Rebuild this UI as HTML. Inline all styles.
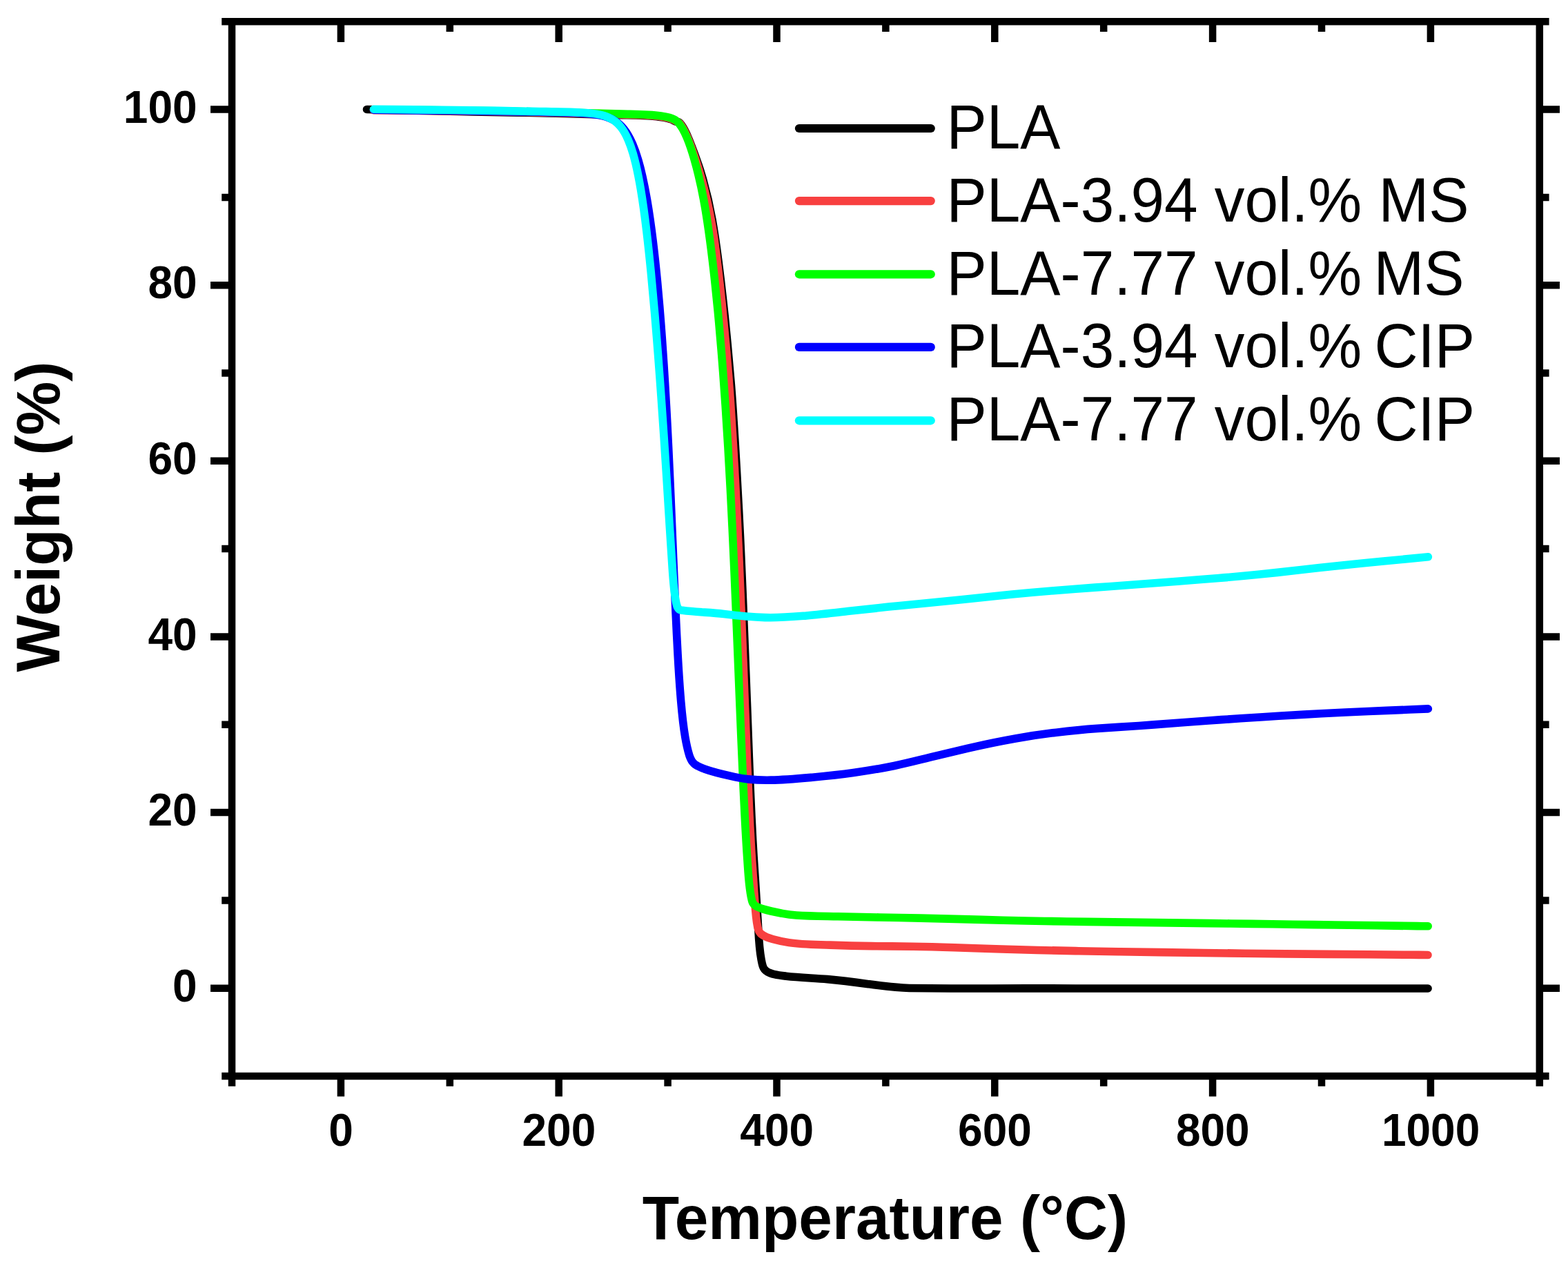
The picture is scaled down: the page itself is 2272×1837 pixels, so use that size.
<!DOCTYPE html>
<html lang="en"><head><meta charset="utf-8"><title>TGA curves</title>
<style>
html,body{margin:0;padding:0;background:#fff;}
body{width:2272px;height:1837px;overflow:hidden;}
svg{display:block;}
</style></head><body>
<svg width="2272" height="1837" viewBox="0 0 2272 1837">
<rect width="2272" height="1837" fill="#fff"/>
<g fill="none" stroke-linecap="round" stroke-linejoin="round" stroke-width="11.6">
<path stroke="#000" d="M531.50,158.50 C551.50,158.94 571.49,159.39 591.48,159.84 C611.48,160.29 631.47,160.74 651.47,161.18 C671.47,161.61 691.46,162.03 711.46,162.37 C731.46,162.72 751.45,163.01 771.45,163.42 C791.44,163.83 811.44,164.34 831.43,164.86 C851.42,165.38 871.42,165.93 891.41,166.45 C911.40,166.97 931.49,166.31 951.34,168.75 C956.97,169.45 962.60,170.20 968.09,171.57 C969.87,172.01 971.63,172.52 973.34,173.18 C975.83,174.14 977.64,175.68 980.24,176.24 C981.55,176.53 982.13,176.32 983.36,176.83 C984.29,177.22 984.73,177.64 985.41,178.38 C986.09,179.11 986.64,179.86 987.22,180.67 C988.88,182.97 990.34,185.40 991.70,187.88 C994.42,192.85 996.71,198.05 998.81,203.31 C1006.23,221.88 1013.14,240.67 1018.60,259.91 C1024.06,279.15 1028.58,298.66 1032.05,318.35 C1035.53,338.05 1038.32,357.86 1040.89,377.69 C1043.46,397.53 1045.80,417.39 1047.97,437.27 C1050.15,457.15 1052.15,477.05 1054.03,496.96 C1055.90,516.88 1057.66,536.80 1059.31,556.73 C1060.97,576.66 1062.22,596.62 1063.51,616.58 C1064.81,636.54 1066.02,656.50 1067.17,676.47 C1068.32,696.44 1069.40,716.41 1070.44,736.38 C1071.47,756.35 1072.48,776.33 1073.39,796.31 C1074.31,816.29 1075.15,836.27 1075.99,856.25 C1076.82,876.24 1077.63,896.22 1078.43,916.20 C1079.22,936.19 1080.01,956.17 1080.79,976.16 C1081.58,996.14 1082.39,1016.12 1083.10,1036.11 C1083.81,1056.10 1084.55,1076.09 1085.32,1096.07 C1086.09,1116.06 1086.89,1136.04 1087.76,1156.02 C1088.63,1176.00 1089.56,1195.98 1090.63,1215.95 C1091.70,1235.92 1093.05,1255.88 1094.39,1275.83 C1095.73,1295.79 1096.94,1315.75 1098.17,1335.71 C1099.28,1353.68 1099.68,1371.78 1102.97,1389.47 C1103.58,1392.75 1104.12,1396.04 1105.15,1399.22 C1105.45,1400.17 1105.80,1401.08 1106.25,1401.98 C1106.69,1402.87 1107.20,1403.68 1107.82,1404.46 C1108.45,1405.24 1109.13,1405.91 1109.91,1406.53 C1110.70,1407.15 1111.52,1407.66 1112.40,1408.14 C1113.58,1408.76 1114.80,1409.28 1116.04,1409.75 C1118.07,1410.51 1120.14,1411.13 1122.25,1411.63 C1127.77,1412.93 1133.42,1413.54 1139.05,1414.17 C1158.92,1416.40 1178.94,1416.94 1198.87,1418.64 C1218.80,1420.33 1238.63,1422.91 1258.44,1425.65 C1278.09,1428.36 1297.77,1431.12 1317.60,1431.46 C1337.60,1431.80 1357.60,1431.91 1377.60,1431.95 C1397.60,1432.00 1417.60,1431.96 1437.60,1431.93 C1457.60,1431.91 1477.60,1431.89 1497.60,1431.90 C1517.60,1431.91 1537.60,1431.92 1557.60,1431.93 C1577.60,1431.94 1597.60,1431.95 1617.60,1431.95 C1637.60,1431.96 1657.60,1431.96 1677.60,1431.96 C1697.60,1431.97 1717.60,1431.97 1737.60,1431.97 C1757.60,1431.97 1777.60,1431.97 1797.60,1431.98 C1817.60,1431.98 1837.60,1431.98 1857.60,1431.98 C1877.60,1431.98 1897.60,1431.98 1917.60,1431.98 C1937.60,1431.98 1957.60,1431.99 1977.60,1431.99 C1997.60,1431.99 2017.60,1431.99 2037.60,1432.00 C2048.10,1432.00 2058.60,1432.00 2069.10,1432.00"/>
<path stroke="#f84040" d="M541.49,159.70 C561.49,159.90 581.49,160.09 601.49,160.27 C621.49,160.46 641.49,160.65 661.48,160.89 C681.48,161.12 701.48,161.41 721.48,161.75 C741.48,162.09 761.47,162.49 781.47,162.93 C801.46,163.38 821.46,163.89 841.45,164.42 C861.44,164.95 881.43,165.50 901.43,166.00 C920.25,166.48 939.17,166.16 957.80,168.92 C961.93,169.53 966.04,170.23 970.05,171.36 C971.65,171.82 973.23,172.34 974.75,173.01 C977.81,174.34 980.28,175.40 983.07,177.23 C983.90,177.78 984.45,178.32 985.10,179.08 C986.08,180.21 986.92,181.41 987.75,182.66 C989.59,185.44 991.22,188.35 992.71,191.33 C997.20,200.26 1000.55,209.72 1003.93,219.13 C1010.69,237.95 1016.30,257.18 1021.21,276.56 C1026.12,295.95 1030.03,315.58 1033.27,335.32 C1036.52,355.05 1038.78,374.94 1041.11,394.80 C1043.44,414.66 1045.55,434.55 1047.53,454.45 C1049.51,474.36 1051.37,494.27 1053.10,514.20 C1054.83,534.12 1056.53,554.05 1057.90,574.00 C1059.28,593.95 1060.57,613.91 1061.79,633.88 C1063.00,653.84 1064.14,673.81 1065.22,693.78 C1066.30,713.75 1067.32,733.72 1068.29,753.70 C1069.26,773.68 1070.19,793.65 1071.06,813.63 C1071.94,833.62 1072.78,853.60 1073.60,873.58 C1074.42,893.56 1075.22,913.55 1076.01,933.53 C1076.80,953.52 1077.59,973.50 1078.37,993.49 C1079.16,1013.47 1079.91,1033.46 1080.67,1053.44 C1081.42,1073.43 1082.20,1093.41 1083.01,1113.40 C1083.83,1133.38 1084.69,1153.36 1085.62,1173.34 C1086.56,1193.32 1087.57,1213.29 1088.77,1233.26 C1089.98,1253.22 1091.37,1273.17 1092.87,1293.12 C1094.12,1309.74 1094.47,1326.50 1097.78,1342.84 C1098.04,1344.14 1098.35,1345.43 1098.78,1346.69 C1099.10,1347.64 1099.47,1348.53 1099.96,1349.40 C1100.45,1350.27 1101.01,1351.05 1101.68,1351.79 C1102.35,1352.53 1103.08,1353.16 1103.88,1353.76 C1104.82,1354.45 1105.80,1355.06 1106.81,1355.63 C1108.27,1356.45 1109.76,1357.18 1111.30,1357.82 C1113.91,1358.90 1116.63,1359.69 1119.36,1360.46 C1127.23,1362.65 1135.22,1364.42 1143.29,1365.64 C1163.07,1368.64 1183.17,1368.41 1203.16,1369.13 C1223.15,1369.84 1243.14,1370.35 1263.14,1370.62 C1283.14,1370.89 1303.14,1370.92 1323.14,1371.21 C1343.14,1371.50 1363.13,1372.07 1383.12,1372.73 C1403.11,1373.38 1423.09,1374.11 1443.08,1374.77 C1463.07,1375.43 1483.06,1376.01 1503.06,1376.47 C1523.05,1376.92 1543.05,1377.33 1563.05,1377.70 C1583.04,1378.08 1603.04,1378.42 1623.04,1378.74 C1643.03,1379.06 1663.03,1379.36 1683.03,1379.65 C1703.03,1379.93 1723.03,1380.21 1743.02,1380.47 C1763.02,1380.73 1783.02,1380.98 1803.02,1381.22 C1823.02,1381.46 1843.02,1381.67 1863.02,1381.85 C1883.02,1382.04 1903.01,1382.21 1923.01,1382.37 C1943.01,1382.52 1963.01,1382.67 1983.01,1382.82 C2003.01,1382.97 2023.01,1383.12 2043.01,1383.28 C2051.68,1383.35 2060.34,1383.42 2069.01,1383.50"/>
<path stroke="#00ff00" d="M541.50,158.80 C561.50,159.00 581.50,159.19 601.50,159.37 C621.50,159.56 641.50,159.75 661.49,159.99 C681.49,160.22 701.49,160.51 721.49,160.85 C741.48,161.19 761.48,161.59 781.48,162.03 C801.47,162.48 821.46,162.99 841.46,163.52 C861.45,164.05 881.44,164.60 901.44,165.10 C920.26,165.58 939.18,165.27 957.81,168.01 C961.94,168.62 966.05,169.32 970.07,170.43 C971.67,170.88 973.25,171.39 974.79,172.04 C975.71,172.42 976.59,172.85 977.46,173.35 C978.33,173.85 979.14,174.40 979.93,175.01 C980.72,175.63 981.45,176.29 982.15,177.01 C983.20,178.08 984.15,179.22 985.05,180.42 C986.56,182.42 987.90,184.53 989.14,186.69 C991.39,190.60 993.30,194.67 995.06,198.82 C999.42,209.10 1002.81,219.76 1005.90,230.49 C1011.43,249.71 1015.88,269.23 1019.54,288.90 C1023.21,308.56 1026.07,328.36 1028.70,348.19 C1031.33,368.01 1033.67,387.88 1035.82,407.76 C1037.97,427.64 1039.92,447.55 1041.72,467.47 C1043.53,487.39 1045.19,507.32 1046.74,527.26 C1048.29,547.20 1049.73,567.15 1051.08,587.10 C1052.42,607.06 1053.68,627.02 1054.86,646.98 C1056.04,666.95 1057.16,686.92 1058.21,706.89 C1059.26,726.86 1060.26,746.83 1061.21,766.81 C1062.17,786.79 1063.08,806.77 1063.95,826.75 C1064.83,846.73 1065.68,866.71 1066.51,886.69 C1067.34,906.68 1068.15,926.66 1068.96,946.65 C1069.76,966.63 1070.57,986.61 1071.37,1006.60 C1072.18,1026.58 1073.00,1046.56 1073.84,1066.55 C1074.68,1086.53 1075.54,1106.51 1076.46,1126.49 C1077.37,1146.47 1078.33,1166.44 1079.38,1186.42 C1080.43,1206.39 1081.56,1226.36 1082.95,1246.31 C1084.16,1263.77 1084.86,1281.34 1088.21,1298.52 C1088.69,1300.97 1089.10,1303.43 1089.89,1305.81 C1090.21,1306.75 1090.58,1307.64 1091.08,1308.50 C1091.59,1309.36 1092.16,1310.09 1092.88,1310.79 C1093.60,1311.49 1094.36,1312.05 1095.21,1312.58 C1096.07,1313.10 1096.94,1313.54 1097.85,1313.96 C1100.58,1315.21 1103.40,1316.23 1106.26,1317.14 C1115.15,1319.97 1124.37,1321.67 1133.54,1323.40 C1140.25,1324.67 1147.03,1325.56 1153.85,1326.02 C1173.81,1327.35 1193.83,1327.35 1213.82,1327.78 C1233.82,1328.20 1253.82,1328.59 1273.81,1328.98 C1293.81,1329.37 1313.80,1329.74 1333.80,1330.17 C1353.80,1330.60 1373.79,1331.13 1393.78,1331.66 C1413.77,1332.19 1433.77,1332.72 1453.76,1333.20 C1473.76,1333.68 1493.75,1334.09 1513.75,1334.45 C1533.75,1334.80 1553.74,1335.10 1573.74,1335.38 C1593.74,1335.66 1613.74,1335.91 1633.74,1336.16 C1653.73,1336.41 1673.73,1336.64 1693.73,1336.88 C1713.73,1337.12 1733.73,1337.35 1753.73,1337.60 C1773.73,1337.85 1793.72,1338.11 1813.72,1338.38 C1833.72,1338.65 1853.72,1338.91 1873.72,1339.18 C1893.72,1339.45 1913.71,1339.72 1933.71,1339.98 C1953.71,1340.25 1973.71,1340.52 1993.71,1340.79 C2013.70,1341.05 2033.70,1341.32 2053.70,1341.59 C2058.87,1341.66 2064.03,1341.73 2069.20,1341.80"/>
<path stroke="#0000ff" d="M541.50,159.30 C561.50,159.50 581.50,159.70 601.50,159.89 C621.50,160.08 641.50,160.27 661.49,160.50 C681.49,160.73 701.49,161.00 721.49,161.33 C741.49,161.65 761.48,162.03 781.48,162.32 C801.48,162.62 821.48,162.82 841.45,163.88 C849.94,164.33 858.44,164.95 866.81,166.43 C870.42,167.06 874.00,167.87 877.50,168.96 C879.89,169.70 882.23,170.56 884.51,171.59 C886.49,172.48 888.41,173.48 890.25,174.61 C891.96,175.65 893.60,176.79 895.17,178.03 C896.87,179.37 898.48,180.82 900.00,182.37 C901.75,184.15 903.38,186.04 904.90,188.03 C906.82,190.54 908.56,193.19 910.17,195.92 C912.53,199.94 914.59,204.14 916.45,208.42 C919.69,215.91 922.33,223.66 924.65,231.48 C930.35,250.66 934.26,270.31 937.65,290.03 C941.03,309.74 943.77,329.56 946.20,349.41 C948.62,369.26 950.72,389.15 952.61,409.06 C954.50,428.97 956.18,448.90 957.72,468.84 C959.25,488.78 960.65,508.74 961.93,528.69 C963.22,548.65 964.41,568.62 965.51,588.59 C966.62,608.56 967.65,628.53 968.62,648.51 C969.60,668.48 970.51,688.46 971.40,708.44 C972.28,728.42 973.13,748.40 973.97,768.39 C974.81,788.37 975.64,808.35 976.48,828.33 C977.32,848.32 978.18,868.30 979.09,888.28 C980.01,908.26 980.97,928.23 982.08,948.20 C983.19,968.17 984.42,988.14 986.02,1008.07 C987.62,1028.01 989.41,1047.96 992.77,1067.67 C994.29,1076.54 996.14,1085.37 998.73,1093.99 C999.16,1095.42 999.67,1096.82 1000.28,1098.20 C1000.81,1099.42 1001.41,1100.60 1002.09,1101.75 C1002.60,1102.60 1003.16,1103.41 1003.79,1104.19 C1004.42,1104.97 1005.09,1105.67 1005.84,1106.34 C1006.59,1107.00 1007.37,1107.59 1008.20,1108.14 C1009.31,1108.88 1010.47,1109.52 1011.66,1110.12 C1014.79,1111.69 1018.04,1112.99 1021.34,1114.17 C1035.76,1119.37 1050.85,1122.47 1065.81,1125.86 C1071.82,1127.23 1077.91,1128.23 1084.05,1128.87 C1094.99,1130.00 1106.00,1130.35 1117.00,1130.16 C1137.00,1129.82 1156.94,1127.98 1176.86,1126.19 C1196.77,1124.39 1216.68,1122.36 1236.47,1119.53 C1256.27,1116.70 1276.04,1113.56 1295.62,1109.50 C1315.20,1105.43 1334.56,1100.36 1354.01,1095.72 C1373.47,1091.09 1392.89,1086.30 1412.39,1081.85 C1431.89,1077.40 1451.51,1073.49 1471.19,1069.96 C1490.88,1066.42 1510.67,1063.49 1530.53,1061.14 C1550.39,1058.79 1570.30,1056.81 1590.25,1055.38 C1610.20,1053.95 1630.17,1052.86 1650.12,1051.43 C1670.07,1050.00 1690.01,1048.50 1709.96,1047.02 C1729.90,1045.54 1749.85,1044.07 1769.80,1042.66 C1789.75,1041.25 1809.71,1039.95 1829.67,1038.70 C1849.63,1037.45 1869.59,1036.26 1889.56,1035.14 C1909.53,1034.01 1929.50,1032.94 1949.48,1031.97 C1969.45,1030.99 1989.44,1030.15 2009.42,1029.34 C2029.40,1028.53 2049.39,1027.75 2069.37,1026.91"/>
<path stroke="#00ffff" d="M541.50,158.30 C561.50,158.50 581.50,158.69 601.50,158.87 C621.50,159.06 641.50,159.25 661.49,159.49 C681.49,159.72 701.49,160.02 721.49,160.39 C741.48,160.76 761.48,161.21 781.48,161.52 C801.47,161.84 821.48,161.99 841.45,163.04 C849.44,163.45 857.44,164.03 865.32,165.40 C868.60,165.98 871.86,166.70 875.05,167.66 C877.28,168.34 879.47,169.13 881.61,170.07 C883.44,170.88 885.21,171.79 886.93,172.82 C888.50,173.77 890.00,174.80 891.45,175.93 C893.02,177.17 894.51,178.50 895.91,179.92 C897.43,181.47 898.84,183.11 900.16,184.82 C901.89,187.07 903.45,189.44 904.88,191.88 C906.90,195.34 908.65,198.94 910.23,202.61 C913.00,209.04 915.23,215.69 917.20,222.41 C922.25,239.68 925.62,257.41 928.56,275.16 C931.83,294.89 934.45,314.73 936.82,334.59 C939.18,354.45 941.27,374.34 943.21,394.25 C945.15,414.15 946.95,434.07 948.65,454.00 C950.35,473.93 951.96,493.86 953.50,513.80 C955.04,533.74 956.52,553.69 957.94,573.64 C959.37,593.59 960.74,613.54 962.07,633.49 C963.41,653.45 964.70,673.41 965.96,693.37 C967.22,713.33 968.46,733.29 969.70,753.25 C970.95,773.21 972.18,793.17 973.58,813.13 C974.94,832.58 975.67,852.17 979.37,871.31 C979.78,873.44 980.24,875.55 980.91,877.61 C981.22,878.56 981.55,879.46 982.01,880.34 C982.47,881.23 982.92,881.90 983.69,882.55 C984.46,883.19 985.18,883.50 986.14,883.78 C987.10,884.06 988.04,884.20 989.03,884.33 C1008.84,887.03 1028.92,887.02 1048.78,889.39 C1068.64,891.77 1088.55,893.83 1108.54,894.59 C1128.52,895.34 1148.51,893.52 1168.44,891.91 C1188.38,890.30 1208.24,887.88 1228.11,885.59 C1247.97,883.29 1267.85,881.11 1287.75,879.10 C1307.65,877.09 1327.56,875.15 1347.46,873.21 C1367.37,871.26 1387.27,869.30 1407.16,867.22 C1427.06,865.14 1446.94,863.01 1466.84,861.04 C1486.75,859.06 1506.67,857.28 1526.60,855.68 C1546.54,854.07 1566.48,852.60 1586.43,851.14 C1606.38,849.68 1626.32,848.23 1646.27,846.69 C1666.21,845.15 1686.15,843.66 1706.09,842.17 C1726.04,840.68 1745.98,839.18 1765.92,837.54 C1785.85,835.90 1805.77,834.11 1825.66,832.07 C1845.56,830.03 1865.43,827.79 1885.31,825.54 C1905.18,823.29 1925.06,821.05 1944.95,819.00 C1964.85,816.96 1984.75,815.00 2004.66,813.07 C2024.56,811.15 2044.47,809.24 2064.38,807.30 C2066.04,807.14 2067.70,806.98 2069.35,806.81"/>
</g>
<g stroke="#000" stroke-width="10.5" fill="none" stroke-linecap="butt">
<path d="M336.0,26.05 V1564.25 M2230.8,26.05 V1564.25 M330.75,31.3 H2236.05 M330.75,1559.0 H2236.05"/>
<path d="M336.0,1559.0 v14.8 M493.9,1559.0 v29.6 M493.9,31.3 v29.6 M651.8,1559.0 v14.8 M651.8,31.3 v14.8 M809.7,1559.0 v29.6 M809.7,31.3 v29.6 M967.6,1559.0 v14.8 M967.6,31.3 v14.8 M1125.5,1559.0 v29.6 M1125.5,31.3 v29.6 M1283.4,1559.0 v14.8 M1283.4,31.3 v14.8 M1441.3,1559.0 v29.6 M1441.3,31.3 v29.6 M1599.2,1559.0 v14.8 M1599.2,31.3 v14.8 M1757.1,1559.0 v29.6 M1757.1,31.3 v29.6 M1915.0,1559.0 v14.8 M1915.0,31.3 v14.8 M2072.9,1559.0 v29.6 M2072.9,31.3 v29.6 M2230.8,1559.0 v14.8 M336.0,1559.0 h-14.8 M2230.8,1559.0 h13.8 M336.0,1431.7 h-31 M2230.8,1431.7 h29.2 M336.0,1304.4 h-14.8 M2230.8,1304.4 h13.8 M336.0,1177.1 h-31 M2230.8,1177.1 h29.2 M336.0,1049.8 h-14.8 M2230.8,1049.8 h13.8 M336.0,922.5 h-31 M2230.8,922.5 h29.2 M336.0,795.1 h-14.8 M2230.8,795.1 h13.8 M336.0,667.8 h-31 M2230.8,667.8 h29.2 M336.0,540.5 h-14.8 M2230.8,540.5 h13.8 M336.0,413.2 h-31 M2230.8,413.2 h29.2 M336.0,285.9 h-14.8 M2230.8,285.9 h13.8 M336.0,158.6 h-31 M2230.8,158.6 h29.2 M336.0,31.3 h-14.8 M2230.8,31.3 h13.8"/>
</g>
<g font-family="'Liberation Sans', sans-serif" font-weight="bold" font-size="64" fill="#000">
<text transform="translate(494.1,1660.3) scale(1,1.04)" text-anchor="middle">0</text>
<text transform="translate(809.9,1660.3) scale(1,1.04)" text-anchor="middle">200</text>
<text transform="translate(1125.7,1660.3) scale(1,1.04)" text-anchor="middle">400</text>
<text transform="translate(1441.5,1660.3) scale(1,1.04)" text-anchor="middle">600</text>
<text transform="translate(1757.3,1660.3) scale(1,1.04)" text-anchor="middle">800</text>
<text transform="translate(2073.1,1660.3) scale(1,1.04)" text-anchor="middle">1000</text>
<text transform="translate(285.6,1450.9) scale(1,1.04)" text-anchor="end">0</text>
<text transform="translate(285.6,1196.3) scale(1,1.04)" text-anchor="end">20</text>
<text transform="translate(285.6,941.7) scale(1,1.04)" text-anchor="end">40</text>
<text transform="translate(285.6,687.0) scale(1,1.04)" text-anchor="end">60</text>
<text transform="translate(285.6,432.4) scale(1,1.04)" text-anchor="end">80</text>
<text transform="translate(285.6,177.8) scale(1,1.04)" text-anchor="end">100</text>
</g>
<g font-family="'Liberation Sans', sans-serif" font-weight="bold" font-size="87.4" fill="#000">
<text transform="translate(1282.5,1795) scale(1,1.015)" text-anchor="middle">Temperature (°C)</text>
<text transform="translate(86.4,748.5) rotate(-90) scale(1,1.015)" text-anchor="middle">Weight (%)</text>
</g>
<g stroke-linecap="round" stroke-width="12.2" fill="none">
<path stroke="#000" d="M1157.9,186.0 H1348.8"/>
<path stroke="#f84040" d="M1157.9,291.1 H1348.8"/>
<path stroke="#00ff00" d="M1157.9,397.3 H1348.8"/>
<path stroke="#0000ff" d="M1157.9,502.9 H1348.8"/>
<path stroke="#00ffff" d="M1157.9,609.3 H1348.8"/>
</g>
<g font-family="'Liberation Sans', sans-serif" font-size="87.3" fill="#000">
<text transform="translate(1371.6,215.2) scale(1,1.04)">PLA</text>
<text transform="translate(1371.6,320.7) scale(1,1.04)">PLA-3.94 vol.% MS</text>
<text transform="translate(1371.6,426.5) scale(1,1.04)">PLA-7.77 vol.% <tspan dx="-7">MS</tspan></text>
<text transform="translate(1371.6,532.4) scale(1,1.04)">PLA-3.94 vol.% <tspan dx="-6">CIP</tspan></text>
<text transform="translate(1371.6,638.0) scale(1,1.04)">PLA-7.77 vol.% <tspan dx="-6">CIP</tspan></text>
</g>
</svg>
</body></html>
